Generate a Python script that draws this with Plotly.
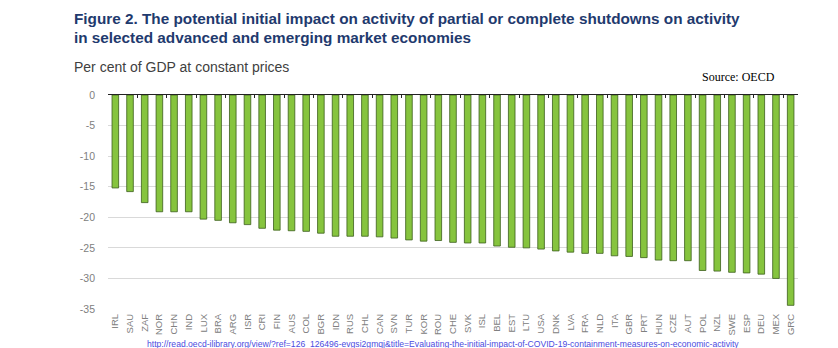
import plotly.graph_objects as go

# Country codes, ordered from smallest to largest shutdown impact
countries = ["IRL", "SAU", "ZAF", "NOR", "CHN", "IND", "LUX", "BRA", "ARG", "ISR",
             "CRI", "FIN", "AUS", "COL", "BGR", "IDN", "RUS", "CHL", "CAN", "SVN",
             "TUR", "KOR", "ROU", "CHE", "SVK", "ISL", "BEL", "EST", "LTU", "USA",
             "DNK", "LVA", "FRA", "NLD", "ITA", "GBR", "PRT", "HUN", "CZE", "AUT",
             "POL", "NZL", "SWE", "ESP", "DEU", "MEX", "GRC"]

# Initial impact on activity, per cent of GDP at constant prices
impact = [-15.2, -15.8, -17.6, -19.1, -19.1, -19.1, -20.3, -20.5, -20.9, -21.2,
          -21.8, -22.1, -22.2, -22.3, -22.6, -23.1, -23.1, -23.1, -23.2, -23.4,
          -23.7, -23.9, -23.8, -24.1, -24.2, -24.2, -24.7, -24.9, -25.0, -25.2,
          -25.5, -25.7, -25.9, -25.9, -26.3, -26.4, -26.6, -27.0, -27.1, -27.1,
          -28.7, -28.8, -29.0, -29.1, -29.3, -30.0, -34.4]

y_ticks = [0, -5, -10, -15, -20, -25, -30, -35]

W, H = 838, 348
L, R, T, B = 108, 40, 95, 34


def px_x(px):
    return (px - L) / (W - L - R)


def px_y(py):
    return 1 - (py - T) / (H - T - B)


fig = go.Figure()

fig.add_trace(go.Bar(
    x=countries, y=impact,
    marker=dict(color="#86C43E", line=dict(color="#3B5E1C", width=0.8)),
    hoverinfo="x+y",
))

# invisible helper trace so the top (zero) axis with tick marks is drawn
fig.add_trace(go.Scatter(
    x=countries, y=[0] * len(countries), xaxis="x2", mode="markers",
    marker=dict(opacity=0), hoverinfo="skip", showlegend=False,
))

x_range = [-0.5, len(countries) - 0.5]

fig.update_layout(
    width=W, height=H,
    margin=dict(l=L, r=R, t=T, b=B),
    paper_bgcolor="white", plot_bgcolor="white",
    showlegend=False,
    bargap=0.55,
    font=dict(family="Liberation Sans, Arial, sans-serif", color="#7f7f7f"),
    xaxis=dict(
        type="category", categoryorder="array", categoryarray=countries,
        range=x_range,
        tickangle=-90, tickfont=dict(size=9.5, color="#808080"),
        showgrid=False, showline=False, ticks="", ticklabelstandoff=2,
    ),
    xaxis2=dict(
        type="category", categoryorder="array", categoryarray=countries,
        overlaying="x", side="top", range=x_range,
        showticklabels=False, showline=True, linecolor="#222222", linewidth=1.2,
        ticks="inside", tickson="boundaries", ticklen=3, tickcolor="#222222",
        tickwidth=1, showgrid=False,
    ),
    yaxis=dict(
        range=[-35, 0], tickvals=y_ticks, ticktext=[str(v) for v in y_ticks],
        tickfont=dict(size=10.5, color="#808080"),
        showgrid=True, gridcolor="#d9d9d9", gridwidth=1,
        zeroline=False, showline=False, ticks="", ticklabelstandoff=12,
    ),
)

annotations = [
    dict(text="<b>Figure 2. The potential initial impact on activity of partial or complete shutdowns on activity</b>",
         x=px_x(72), y=px_y(17), yanchor="middle", font=dict(size=15.3, color="#1F3A6E")),
    dict(text="<b>in selected advanced and emerging market economies</b>",
         x=px_x(72), y=px_y(36), yanchor="middle", font=dict(size=15.3, color="#1F3A6E")),
    dict(text="Per cent of GDP at constant prices",
         x=px_x(72), y=px_y(66), yanchor="middle", font=dict(size=14, color="#404040")),
    dict(text="Source: OECD",
         x=px_x(700), y=px_y(77), yanchor="middle",
         font=dict(size=12, color="#000000", family="Liberation Serif, Times New Roman, serif")),
    dict(text="http://read.oecd-ilibrary.org/view/?ref=126_126496-evgsi2gmqj&title=Evaluating-the-initial-impact-of-COVID-19-containment-measures-on-economic-activity",
         x=px_x(145), y=px_y(343), yanchor="top", font=dict(size=8.6, color="#4B4BE0")),
]
for a in annotations:
    a.update(xref="paper", yref="paper", xanchor="left", showarrow=False)
    fig.add_annotation(**a)

fig.write_html("out.html")
